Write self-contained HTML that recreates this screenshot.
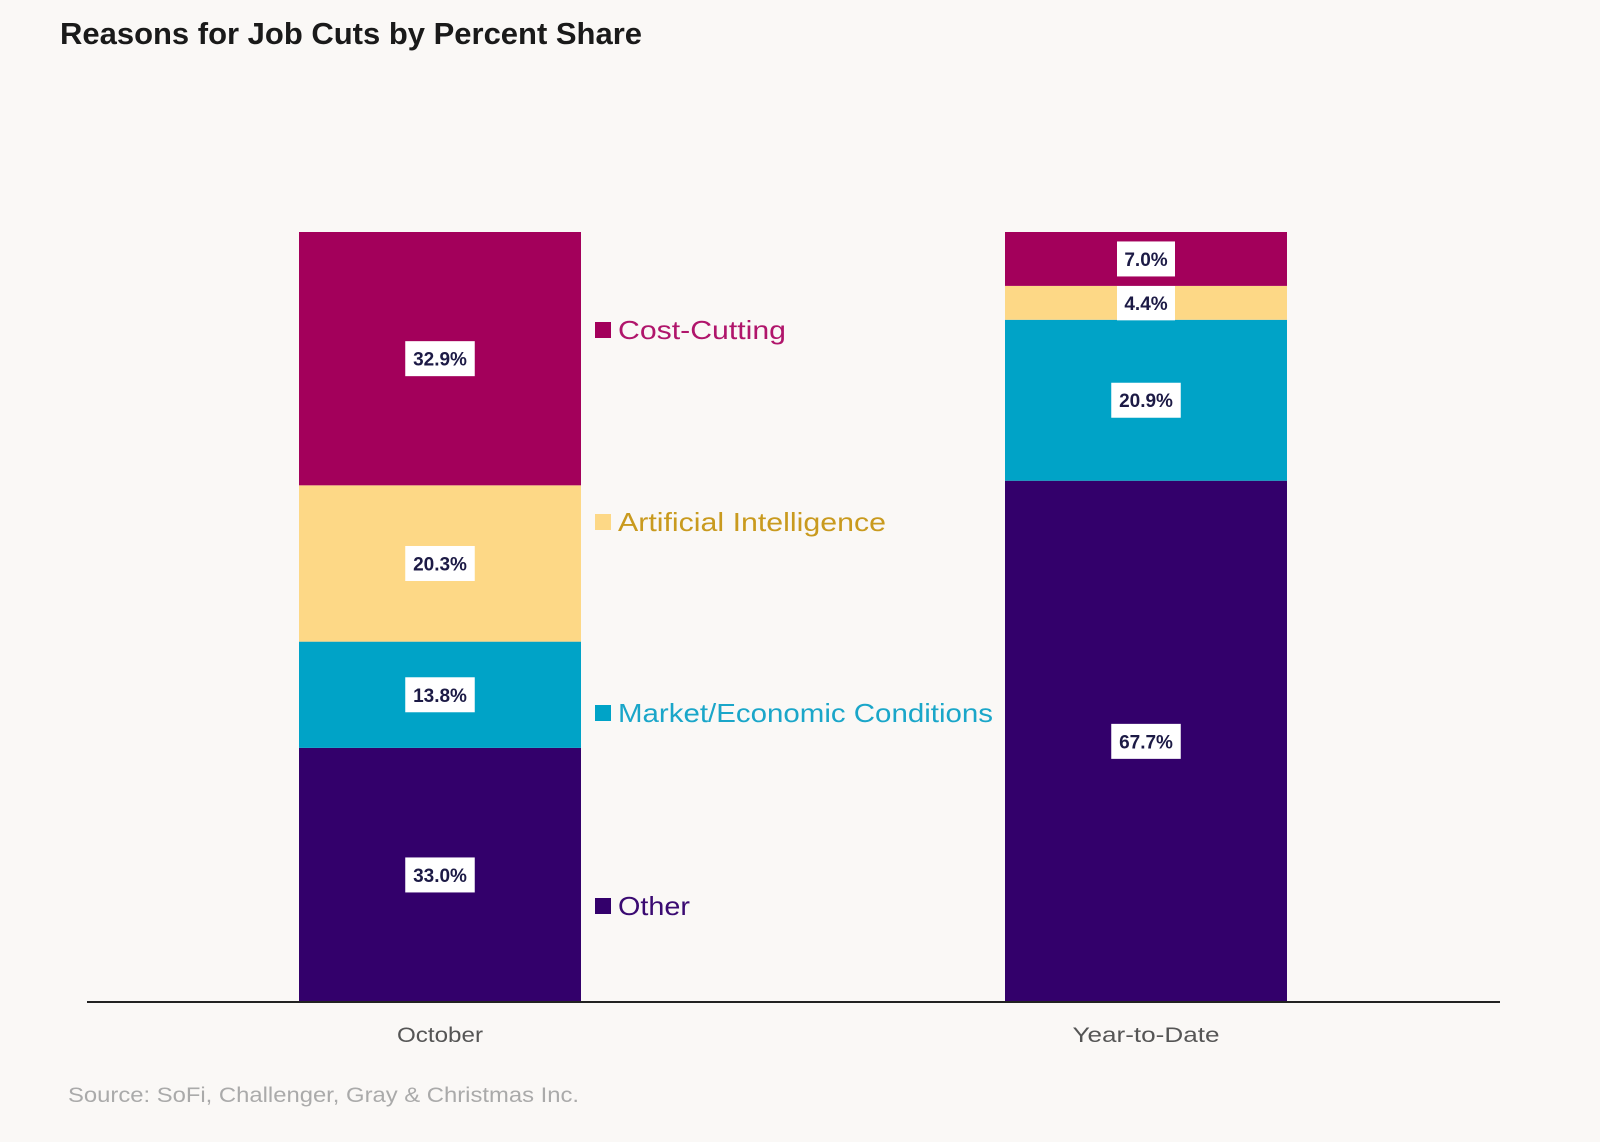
<!DOCTYPE html>
<html><head><meta charset="utf-8"><style>
html,body{margin:0;padding:0;background:#FAF8F6;}
body{width:1600px;height:1137px;overflow:hidden;font-family:"Liberation Sans",sans-serif;}
</style></head><body>
<svg width="1600" height="1137" xmlns="http://www.w3.org/2000/svg">
<rect width="1600" height="1137" fill="#FAF8F6"/>
<text x="60" y="44" font-family="Liberation Sans, sans-serif" font-weight="bold" font-size="31" fill="#1a1a1a" textLength="582" lengthAdjust="spacingAndGlyphs">Reasons for Job Cuts by Percent Share</text>
<g id="bars"></g>
<g id="legend"></g>
<line x1="87" y1="1002" x2="1500" y2="1002" stroke="#222" stroke-width="2"/>
<text x="68" y="1102" font-size="21" fill="#aaa" textLength="511" lengthAdjust="spacingAndGlyphs">Source: SoFi, Challenger, Gray &amp; Christmas Inc.</text>
</svg>
<script>
const categories = ["October", "Year-to-Date"];
const seriesNames = ["Other", "Market/Economic Conditions", "Artificial Intelligence", "Cost-Cutting"];
const otherVals = [33.0, 67.7];
const marketVals = [13.8, 20.9];
const aiVals = [20.3, 4.4];
const costVals = [32.9, 7.0];
const colors = ["#33006B", "#00A3C7", "#FDD886", "#A3005B"];
const legendColors = ["#3A0A72", "#1AA6C9", "#C99A1E", "#B0156B"];
const legendWidths = [72, 375, 268, 168];
const categoryWidths = [86, 147];
const series = [otherVals, marketVals, aiVals, costVals];
const ns = "http://www.w3.org/2000/svg";
const yBase = 1002, yTop = 232;
function y(v){ return yBase - v/100*(yBase-yTop); }
const barW = 282;
function xLeft(i){ return [299, 1005][i]; }
const g = document.getElementById('bars');
function mk(tag, attrs){ const e=document.createElementNS(ns,tag); for(const k in attrs) e.setAttribute(k,attrs[k]); return e; }
categories.forEach((c,i)=>{
  let cum = 0;
  series.forEach((s,j)=>{
    const v = s[i];
    const r = mk('rect',{x:xLeft(i), y:y(cum+v), width:barW, height:y(cum)-y(cum+v), fill:colors[j]});
    
    
    g.appendChild(r);
    const mid = (y(cum)+y(cum+v))/2;
    const txt = v.toFixed(1)+'%';
    const w = txt.length*11.5+12;
    const bx = mk('rect',{x:xLeft(i)+barW/2-w/2, y:mid-17.5, width:w, height:35, fill:"#fff"});
    
    
    g.appendChild(bx);
    const t = mk('text',{x:xLeft(i)+barW/2, y:mid+7, 'text-anchor':'middle', 'font-size':19, 'font-weight':'bold', fill:'#1c1a45'});
    t.textContent = txt;
    
    
    g.appendChild(t);
    cum += v;
  });
  const ct = mk('text',{x:xLeft(i)+barW/2, y:1042, 'text-anchor':'middle', 'font-size':21, fill:'#555', textLength:categoryWidths[i], lengthAdjust:'spacingAndGlyphs'});
  ct.textContent = c;
  
  
  g.appendChild(ct);
});
const legendY = [906, 713, 522, 330];
const lg = document.getElementById('legend');
seriesNames.forEach((n,j)=>{
  const sq = mk('rect',{x:595, y:legendY[j]-8, width:16, height:16, fill:colors[j]});
  
  
  lg.appendChild(sq);
  const t = mk('text',{x:618, y:legendY[j]+9, 'font-size':26, fill:legendColors[j], textLength:legendWidths[j], lengthAdjust:'spacingAndGlyphs'});
  t.textContent = n;
  
  
  lg.appendChild(t);
});
</script>
</body></html>
